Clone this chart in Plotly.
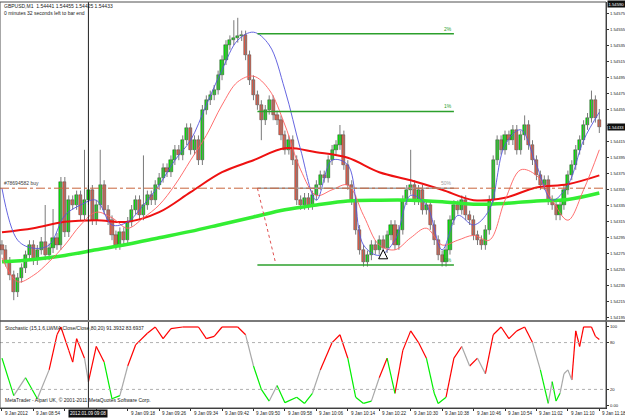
import plotly.graph_objects as go

# ---------------- data (prices stored in 1e-5 units above 1.0, e.g. 54285 -> 1.54285) -------------
bars = list(range(153))  # one-minute bars, 08:46 .. 11:18

open_pts = [54285, 54279, 54264, 54247, 54226, 54244, 54256, 54272, 54285, 54266,
            54279, 54289, 54272, 54281, 54294, 54285, 54364, 54301, 54341, 54335,
            54347, 54322, 54341, 54354, 54316, 54335, 54360, 54329, 54316, 54297,
            54285, 54301, 54291, 54314, 54329, 54341, 54322, 54335, 54347, 54341,
            54360, 54369, 54381, 54376, 54391, 54404, 54397, 54416, 54431, 54404,
            54416, 54391, 54454, 54466, 54472, 54479, 54497, 54516, 54535, 54541,
            54544, 54546, 54547, 54522, 54491, 54472, 54460, 54441, 54454, 54466,
            54447, 54441, 54422, 54404, 54416, 54391, 54341, 54335, 54344, 54335,
            54347, 54360, 54372, 54369, 54391, 54404, 54410, 54422, 54385, 54360,
            54341, 54304, 54279, 54264, 54272, 54285, 54279, 54291, 54281, 54297,
            54310, 54285, 54304, 54341, 54354, 54360, 54341, 54354, 54329, 54335,
            54310, 54291, 54272, 54264, 54279, 54316, 54335, 54329, 54341, 54322,
            54316, 54297, 54291, 54285, 54304, 54341, 54391, 54416, 54404, 54422,
            54416, 54429, 54404, 54422, 54435, 54410, 54391, 54372, 54360, 54366,
            54341, 54335, 54322, 54335, 54354, 54372, 54385, 54404, 54416, 54435,
            54444, 54466, 54441]
high_pts = [54291, 54285, 54270, 54253, 54250, 54262, 54278, 54291, 54291, 54285,
            54295, 54335, 54287, 54330, 54300, 54370, 54370, 54347, 54347, 54353,
            54353, 54404, 54360, 54360, 54341, 54404, 54366, 54335, 54322, 54303,
            54307, 54307, 54320, 54335, 54347, 54347, 54397, 54353, 54353, 54366,
            54375, 54387, 54387, 54397, 54410, 54410, 54422, 54437, 54437, 54422,
            54422, 54460, 54472, 54478, 54485, 54503, 54522, 54541, 54547, 54566,
            54569, 54553, 54553, 54528, 54497, 54478, 54466, 54460, 54472, 54472,
            54453, 54447, 54428, 54422, 54422, 54397, 54347, 54350, 54350, 54353,
            54366, 54378, 54378, 54397, 54410, 54416, 54435, 54428, 54391, 54366,
            54347, 54310, 54285, 54278, 54291, 54291, 54297, 54297, 54303, 54316,
            54316, 54310, 54347, 54360, 54404, 54366, 54360, 54360, 54341, 54341,
            54316, 54297, 54278, 54285, 54322, 54341, 54341, 54347, 54347, 54328,
            54322, 54303, 54297, 54310, 54347, 54397, 54422, 54422, 54428, 54428,
            54435, 54435, 54428, 54447, 54441, 54416, 54397, 54378, 54372, 54372,
            54347, 54341, 54341, 54360, 54378, 54391, 54410, 54422, 54441, 54450,
            54478, 54472, 54455]
low_pts = [54273, 54258, 54241, 54216, 54220, 54238, 54250, 54266, 54260, 54260,
           54273, 54266, 54266, 54275, 54279, 54279, 54295, 54295, 54329, 54329,
           54316, 54316, 54335, 54310, 54310, 54329, 54323, 54310, 54291, 54279,
           54279, 54285, 54285, 54308, 54323, 54316, 54316, 54329, 54335, 54335,
           54354, 54363, 54370, 54370, 54385, 54391, 54391, 54410, 54398, 54398,
           54385, 54385, 54448, 54460, 54466, 54473, 54491, 54510, 54529, 54535,
           54538, 54540, 54516, 54485, 54466, 54454, 54416, 54435, 54448, 54441,
           54435, 54416, 54398, 54398, 54385, 54335, 54329, 54329, 54329, 54329,
           54341, 54354, 54363, 54363, 54385, 54398, 54404, 54379, 54354, 54335,
           54298, 54273, 54258, 54258, 54266, 54273, 54273, 54275, 54275, 54291,
           54279, 54279, 54298, 54335, 54348, 54335, 54335, 54323, 54323, 54304,
           54285, 54266, 54258, 54258, 54273, 54310, 54323, 54323, 54316, 54310,
           54291, 54285, 54279, 54279, 54298, 54335, 54385, 54398, 54398, 54410,
           54410, 54398, 54398, 54416, 54404, 54385, 54366, 54354, 54354, 54335,
           54329, 54316, 54316, 54329, 54348, 54366, 54379, 54398, 54410, 54429,
           54438, 54438, 54425]
close_pts = [54279, 54264, 54247, 54226, 54244, 54256, 54272, 54285, 54266, 54279,
             54289, 54272, 54281, 54294, 54285, 54364, 54301, 54341, 54335, 54347,
             54322, 54341, 54354, 54316, 54335, 54360, 54329, 54316, 54297, 54285,
             54301, 54291, 54314, 54329, 54341, 54322, 54335, 54347, 54341, 54360,
             54369, 54381, 54376, 54391, 54404, 54397, 54416, 54431, 54404, 54416,
             54391, 54454, 54466, 54472, 54479, 54497, 54516, 54535, 54541, 54544,
             54546, 54547, 54522, 54491, 54472, 54460, 54441, 54454, 54466, 54447,
             54441, 54422, 54404, 54416, 54391, 54341, 54335, 54344, 54335, 54347,
             54360, 54372, 54369, 54391, 54404, 54410, 54422, 54385, 54360, 54341,
             54304, 54279, 54264, 54272, 54285, 54279, 54291, 54281, 54297, 54310,
             54285, 54304, 54341, 54354, 54360, 54341, 54354, 54329, 54335, 54310,
             54291, 54272, 54264, 54279, 54316, 54335, 54329, 54341, 54322, 54316,
             54297, 54291, 54285, 54304, 54341, 54391, 54416, 54404, 54422, 54416,
             54429, 54404, 54422, 54435, 54410, 54391, 54372, 54360, 54366, 54341,
             54335, 54322, 54335, 54354, 54372, 54385, 54404, 54416, 54435, 54444,
             54466, 54444, 54433]

# indicator lines, read at sampled bars
ma_slow_bars = [0, 8, 16, 24, 32, 40, 48, 56, 64, 72, 80, 88, 96, 104, 112, 120, 128, 136, 144, 152]
ma_green_pts = [54264, 54267, 54272, 54279, 54286, 54294, 54302, 54311, 54320, 54329,
                54335, 54340, 54341, 54341, 54339, 54336, 54337, 54340, 54342, 54350]
ma_red_pts = [54301, 54306, 54314, 54316, 54314, 54326, 54351, 54376, 54391, 54406,
              54401, 54394, 54376, 54366, 54354, 54341, 54344, 54357, 54361, 54372]

ma_fast_bars = list(range(0, 153, 4))
ma_thin_pts = [54269, 54239, 54247, 54264, 54285, 54310, 54326, 54319, 54306, 54319,
               54335, 54360, 54391, 54422, 54460, 54489, 54496, 54479, 54435, 54379,
               54347, 54354, 54360, 54322, 54285, 54279, 54294, 54306, 54285, 54291,
               54297, 54291, 54341, 54379, 54372, 54341, 54316, 54354, 54404]
ma_blue_pts = [54356, 54291, 54281, 54285, 54322, 54335, 54341, 54310, 54314, 54335,
               54360, 54391, 54416, 54460, 54504, 54541, 54551, 54535, 54479, 54404,
               54341, 54391, 54385, 54285, 54272, 54291, 54347, 54335, 54279, 54322,
               54310, 54329, 54410, 54429, 54385, 54341, 54360, 54416, 54451]

stoch_bars = [0, 3, 6, 9, 12, 14, 15, 17, 18, 19, 21, 22, 24, 26, 28, 30, 32, 34, 37, 39,
              41, 43, 46, 50, 52, 54, 56, 60, 62, 64, 66, 68, 70, 72, 75, 77, 79, 81, 84, 86,
              88, 90, 92, 94, 96, 98, 100, 102, 104, 106, 108, 110, 111, 113, 115, 117, 119, 121, 123, 125,
              127, 129, 131, 133, 135, 137, 139, 140, 141, 142, 143, 144, 145, 146, 147, 148, 150, 151, 152]
stoch_vals = [60, 12, 35, 8, 45, 90, 100, 70, 55, 85, 60, 30, 75, 55, 8, 12, 50, 77, 92, 100,
              85, 98, 100, 100, 85, 88, 100, 100, 90, 50, 20, 5, 25, 3, 10, 2, 15, 45, 80, 90,
              60, 10, 2, 5, 35, 60, 15, 70, 95, 80, 60, 15, 2, 10, 60, 75, 50, 60, 40, 90,
              100, 85, 95, 100, 80, 45, 2, 30, 5, 15, 40, 45, 32, 95, 75, 100, 100, 88, 84]

# fibo / objects
fib_bars = [65, 115]
fib_levels = [54549, 54452, 54356, 54260]
fib_labels = ["2%", "1%", "50%", "0%"]
fib_colors = ["#2ca02c", "#2ca02c", "#a0a0a0", "#2ca02c"]
fib_base_bars = [65, 69.5]
fib_base_pts = [54356, 54265]
order_price_pts = 54356
order_label = "#78694582 buy"
arrow_bar = [97]
arrow_pts = [54279]
cross_bar = 22
cross_label = "2012.01.09 09:08"

price_ticks_pts = [54575, 54555, 54535, 54515, 54495, 54475, 54455, 54435, 54415, 54395,
                   54375, 54355, 54335, 54315, 54295, 54275, 54255, 54235, 54215, 54195]
price_tick_text = ["1.54575", "1.54555", "1.54535", "1.54515", "1.54495", "1.54475", "1.54455",
                   "1.54435", "1.54415", "1.54395", "1.54375", "1.54355", "1.54335", "1.54315",
                   "1.54295", "1.54275", "1.54255", "1.54235", "1.54215", "1.54195"]
stoch_ticks = [100, 80, 20, 0]
stoch_tick_text = ["100", "80", "20", "0.00"]
time_tick_bars = list(range(0, 153, 8))
time_tick_text = ["9 Jan 2012", "9 Jan 08:54", "9 Jan 09:02", "9 Jan 09:10", "9 Jan 09:18",
                  "9 Jan 09:26", "9 Jan 09:34", "9 Jan 09:42", "9 Jan 09:50", "9 Jan 09:58",
                  "9 Jan 10:06", "9 Jan 10:14", "9 Jan 10:22", "9 Jan 10:30", "9 Jan 10:38",
                  "9 Jan 10:46", "9 Jan 10:54", "9 Jan 11:02", "9 Jan 11:10", "9 Jan 11:18"]
current_pts = 54433
current_text = "1.54433"
top_box_text = "1.54590"
title_line1 = "GBPUSD,M1  1.54441 1.54455 1.54425 1.54433"
title_line2 = "0 minutes 32 seconds left to bar end"
stoch_title = "Stochastic (15,1,6,LWMA,Close/Close,80,20) 91.3932 83.6937"
copyright_text = "MetaTrader - Alpari UK, \u00a9 2001-2011 MetaQuotes Software Corp."


def px(v):
    return 1.0 + v * 1e-5


opens = [px(v) for v in open_pts]
highs = [px(v) for v in high_pts]
lows = [px(v) for v in low_pts]
closes = [px(v) for v in close_pts]

# ---------------- layout geometry ----------------
W, H = 625, 418
X_RIGHT = 606 / W
P_DOM = [1 - 320 / H, 1 - 2 / H]
S_DOM = [1 - 408 / H, 1 - 322 / H]
FONT = "Liberation Sans"
TXT = "#202020"
BAR_PX = 606 / 154.2  # pixels per bar

fig = go.Figure()

# --- candles: wicks then bodies ---
wx, wy = [], []
for b, hi, lo in zip(bars, highs, lows):
    wx += [b, b, None]
    wy += [lo, hi, None]
fig.add_trace(go.Scatter(x=wx, y=wy, mode="lines", line=dict(color="#7a7a7a", width=1),
                         showlegend=False, hoverinfo="skip"))
body_base = [min(o, c) for o, c in zip(opens, closes)]
body_len = [max(abs(c - o), 0.0000012) for o, c in zip(opens, closes)]
body_col = ["#00f000" if c >= o else "#f0604a" for o, c in zip(opens, closes)]
fig.add_trace(go.Bar(x=bars, y=body_len, base=body_base, width=0.8,
                     marker=dict(color=body_col, line=dict(color="#2a2a2a", width=0.45)),
                     showlegend=False, hoverinfo="skip"))

fig.add_trace(go.Scatter(x=ma_slow_bars, y=[px(v) for v in ma_green_pts], mode="lines",
                         line=dict(color="#33ee33", width=3.5, shape="spline"),
                         showlegend=False, hoverinfo="skip"))
fig.add_trace(go.Scatter(x=ma_slow_bars, y=[px(v) for v in ma_red_pts], mode="lines",
                         line=dict(color="#ee1111", width=2, shape="spline"),
                         showlegend=False, hoverinfo="skip"))
fig.add_trace(go.Scatter(x=ma_fast_bars, y=[px(v) for v in ma_thin_pts], mode="lines",
                         line=dict(color="#ff6060", width=0.9, shape="spline"),
                         showlegend=False, hoverinfo="skip"))
fig.add_trace(go.Scatter(x=ma_fast_bars, y=[px(v) for v in ma_blue_pts], mode="lines",
                         line=dict(color="#5555dd", width=0.9, shape="spline"),
                         showlegend=False, hoverinfo="skip"))

# fibo lines
for lvl, lab, col in zip(fib_levels, fib_labels, fib_colors):
    fig.add_trace(go.Scatter(x=fib_bars, y=[px(lvl), px(lvl)], mode="lines",
                             line=dict(color=col, width=1.5), showlegend=False, hoverinfo="skip"))
    fig.add_annotation(x=fib_bars[1], y=px(lvl), xref="x", yref="y", text=lab, showarrow=False,
                       xanchor="right", yanchor="bottom", font=dict(family=FONT, size=5, color=col))
fig.add_trace(go.Scatter(x=fib_base_bars, y=[px(v) for v in fib_base_pts], mode="lines",
                         line=dict(color="#e05050", width=1, dash="dot"), showlegend=False, hoverinfo="skip"))

# order line
fig.add_shape(type="line", xref="paper", yref="y", x0=0, x1=X_RIGHT, y0=px(order_price_pts), y1=px(order_price_pts),
              line=dict(color="#c8643c", width=1, dash="dashdot"))
fig.add_annotation(x=2 / W, y=px(order_price_pts), xref="paper", yref="y", text=order_label, showarrow=False,
                   xanchor="left", yanchor="bottom", font=dict(family=FONT, size=5, color="#404040"))

# arrow
fig.add_trace(go.Scatter(x=arrow_bar, y=[px(v) for v in arrow_pts], mode="markers",
                         marker=dict(symbol="arrow-up", size=9, color="white", line=dict(color="black", width=1)),
                         showlegend=False, hoverinfo="skip"))

# stochastic coloured line (colour by level reached at the end of each segment)
col_map = {"red": "#ff0000", "gray": "#a8a8a8", "green": "#00ee00"}
segs = {k: ([], []) for k in col_map}
for i in range(len(stoch_vals) - 1):
    v = stoch_vals[i + 1]
    st = "red" if v >= 55 else ("green" if v <= 22 else "gray")
    xs, ys = segs[st]
    xs += [stoch_bars[i], stoch_bars[i + 1], None]
    ys += [stoch_vals[i], stoch_vals[i + 1], None]
for k, (xs, ys) in segs.items():
    fig.add_trace(go.Scatter(x=xs, y=ys, mode="lines", line=dict(color=col_map[k], width=1.2),
                             yaxis="y2", showlegend=False, hoverinfo="skip", connectgaps=False))

for lv in (80, 20):
    fig.add_shape(type="line", xref="paper", yref="y2", x0=0, x1=X_RIGHT, y0=lv, y1=lv,
                  line=dict(color="#b0b0b0", width=1, dash="dot"))

# crosshair vertical line
fig.add_shape(type="line", xref="x", yref="paper", x0=cross_bar, x1=cross_bar, y0=S_DOM[0], y1=P_DOM[1],
              line=dict(color="#202020", width=1))

# panel separator and frame
fig.add_shape(type="line", xref="paper", yref="paper", x0=0, x1=1, y0=1 - 321 / H, y1=1 - 321 / H,
              line=dict(color="#7a7a7a", width=2))
fig.add_shape(type="rect", xref="paper", yref="paper", x0=0, x1=X_RIGHT, y0=S_DOM[0], y1=P_DOM[1],
              line=dict(color="#505050", width=1))

# price axis labels (the one hidden by the current-price box is skipped)
for v, t in zip(price_ticks_pts, price_tick_text):
    if abs(v - current_pts) < 8:
        continue
    fig.add_annotation(x=X_RIGHT + 2 / W, y=px(v), xref="paper", yref="y", text=t, showarrow=False,
                       xanchor="left", yanchor="middle", font=dict(family=FONT, size=4.2, color=TXT))
fig.add_annotation(x=X_RIGHT + 1 / W, y=px(current_pts), xref="paper", yref="y", text=current_text,
                   showarrow=False, xanchor="left", yanchor="middle", bgcolor="#101010", borderpad=0.5,
                   font=dict(family=FONT, size=4.2, color="white"))
fig.add_annotation(x=X_RIGHT + 1 / W, y=1, xref="paper", yref="paper", text=top_box_text,
                   showarrow=False, xanchor="left", yanchor="top", bgcolor="#101010", borderpad=0.5,
                   font=dict(family=FONT, size=4.2, color="white"))
for v, t in zip(stoch_ticks, stoch_tick_text):
    fig.add_annotation(x=X_RIGHT + 2 / W, y=v, xref="paper", yref="y2", text=t, showarrow=False,
                       xanchor="left", yanchor="middle", font=dict(family=FONT, size=4.2, color=TXT))

# time labels; the crosshair date box covers the labels near it
box_half = 17.5 / BAR_PX
for b, t in zip(time_tick_bars, time_tick_text):
    if abs(b - cross_bar) < 7:
        continue
    if 0 < b - cross_bar < 4 + box_half:
        t = t.split(" ")[-1]
        fig.add_annotation(x=cross_bar + box_half, y=0, xref="x", yref="paper", text=t, showarrow=False,
                           xanchor="left", yanchor="bottom", xshift=3,
                           font=dict(family=FONT, size=4.6, color=TXT))
        continue
    fig.add_annotation(x=b, y=0, xref="x", yref="paper", text=t, showarrow=False,
                       xanchor="left", yanchor="bottom", xshift=1, font=dict(family=FONT, size=4.6, color=TXT))
fig.add_annotation(x=cross_bar, y=0, xref="x", yref="paper", text=cross_label, showarrow=False,
                   xanchor="center", yanchor="bottom", bgcolor="#101010", borderpad=1,
                   font=dict(family=FONT, size=4.6, color="white"))

# texts
fig.add_annotation(x=2 / W, y=1 - 1 / H, xref="paper", yref="paper", text=title_line1, showarrow=False,
                   xanchor="left", yanchor="top", font=dict(family=FONT, size=5, color=TXT))
fig.add_annotation(x=2 / W, y=1 - 8 / H, xref="paper", yref="paper", text=title_line2, showarrow=False,
                   xanchor="left", yanchor="top", font=dict(family=FONT, size=5, color=TXT))
fig.add_annotation(x=3 / W, y=1 - 323 / H, xref="paper", yref="paper", text=stoch_title, showarrow=False,
                   xanchor="left", yanchor="top", font=dict(family=FONT, size=5, color=TXT))
fig.add_annotation(x=3 / W, y=1 - 395 / H, xref="paper", yref="paper", text=copyright_text, showarrow=False,
                   xanchor="left", yanchor="top", font=dict(family=FONT, size=5, color=TXT))

fig.update_layout(
    width=W, height=H, autosize=False, margin=dict(l=0, r=0, t=0, b=0),
    paper_bgcolor="white", plot_bgcolor="white", bargap=0,
    xaxis=dict(domain=[0, X_RIGHT], range=[-0.5, 153.7], anchor="y2", showgrid=False, zeroline=False,
               showline=True, linecolor="#303030", ticks="outside", ticklen=2, tickcolor="#303030",
               tickvals=time_tick_bars, showticklabels=False),
    yaxis=dict(domain=P_DOM, range=[px(54191.25), px(54588.75)], side="right", anchor="x",
               showgrid=False, zeroline=False, showline=True, linecolor="#303030",
               ticks="outside", ticklen=2, tickcolor="#303030",
               tickvals=[px(v) for v in price_ticks_pts], showticklabels=False),
    yaxis2=dict(domain=S_DOM, range=[-3.85, 106.4], side="right", anchor="x",
                showgrid=False, zeroline=False, showline=True, linecolor="#303030",
                ticks="outside", ticklen=2, tickcolor="#303030",
                tickvals=stoch_ticks, showticklabels=False),
    showlegend=False,
)

fig.write_html("out.html")
